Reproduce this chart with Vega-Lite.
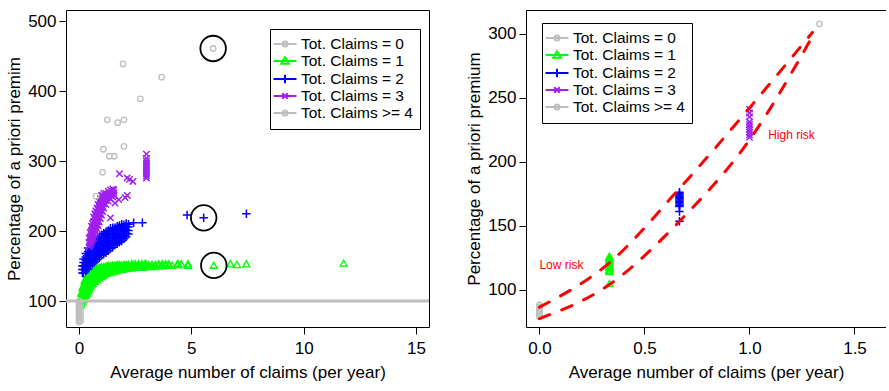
{
"$schema": "https://vega.github.io/schema/vega-lite/v6.json",
"padding": {"left": 5, "top": 9, "right": 0, "bottom": 0},
"bounds": "flush",
"spacing": 97,
"config": {
 "font": "Liberation Sans",
 "view": {"stroke": "black", "strokeWidth": 1},
 "axis": {"grid": false, "domain": false, "domainColor": "black", "domainWidth": 1, "tickColor": "black", "tickSize": 7, "tickWidth": 1, "labelColor": "black", "labelFont": "Liberation Sans", "labelFontSize": 17, "titleFont": "Liberation Sans", "titleFontSize": 17, "titleFontWeight": "normal", "titleColor": "black", "labelFlush": false, "labelOverlap": false},
 "axisX": {"labelPadding": 6, "titlePadding": 8},
 "axisY": {"labelPadding": 3, "titlePadding": 4},
 "legend": {"labelFont": "Liberation Sans", "labelFontSize": 15.5, "labelColor": "black", "strokeColor": "black", "fillColor": "white", "padding": 7, "symbolSize": 196, "symbolStrokeWidth": 2, "labelOffset": 8, "rowPadding": 0, "symbolOpacity": 1, "labelBaseline": "middle"}
},
"resolve": {"scale": {"color": "independent", "shape": "independent"}, "legend": {"color": "independent", "shape": "independent"}},
"datasets": {
 "left": [
{"x":0,"y":70,"c":"0"},{"x":0,"y":73,"c":"0"},{"x":0,"y":76,"c":"0"},{"x":0,"y":79,"c":"0"},{"x":0,"y":82,"c":"0"},{"x":0,"y":85,"c":"0"},{"x":0,"y":88,"c":"0"},{"x":0,"y":91,"c":"0"},{"x":0,"y":94,"c":"0"},{"x":0,"y":97,"c":"0"},{"x":0,"y":100,"c":"0"},{"x":0.07,"y":72,"c":"0"},{"x":0.07,"y":78,"c":"0"},{"x":0.07,"y":84,"c":"0"},{"x":0.07,"y":90,"c":"0"},{"x":0.07,"y":96,"c":"0"},
{"x":0.76,"y":250,"c":"4"},{"x":1.05,"y":284,"c":"4"},{"x":1.08,"y":317,"c":"4"},{"x":1.35,"y":307,"c":"4"},{"x":1.57,"y":307,"c":"4"},{"x":1.26,"y":359,"c":"4"},{"x":1.72,"y":355,"c":"4"},{"x":2.0,"y":359,"c":"4"},{"x":2.0,"y":321,"c":"4"},{"x":1.96,"y":439,"c":"4"},{"x":2.73,"y":389,"c":"4"},{"x":3.68,"y":420,"c":"4"},{"x":5.97,"y":461,"c":"4"},
{"x":0.06,"y":94,"c":"1"},{"x":0.06,"y":99,"c":"1"},{"x":0.06,"y":104,"c":"1"},
{"x":0.1,"y":96,"c":"1"},{"x":0.1,"y":101,"c":"1"},{"x":0.1,"y":106,"c":"1"},{"x":0.1,"y":111,"c":"1"},
{"x":0.15,"y":99,"c":"1"},{"x":0.15,"y":104,"c":"1"},{"x":0.15,"y":109,"c":"1"},{"x":0.15,"y":114,"c":"1"},{"x":0.15,"y":119,"c":"1"},
{"x":0.2,"y":102,"c":"1"},{"x":0.2,"y":107,"c":"1"},{"x":0.2,"y":112,"c":"1"},{"x":0.2,"y":117,"c":"1"},{"x":0.2,"y":122,"c":"1"},
{"x":0.25,"y":105,"c":"1"},{"x":0.25,"y":110,"c":"1"},{"x":0.25,"y":115,"c":"1"},{"x":0.25,"y":120,"c":"1"},{"x":0.25,"y":125,"c":"1"},{"x":0.25,"y":129,"c":"1"},
{"x":0.3,"y":108,"c":"1"},{"x":0.3,"y":113,"c":"1"},{"x":0.3,"y":118,"c":"1"},{"x":0.3,"y":123,"c":"1"},{"x":0.3,"y":128,"c":"1"},{"x":0.3,"y":132,"c":"1"},
{"x":0.35,"y":111,"c":"1"},{"x":0.35,"y":116,"c":"1"},{"x":0.35,"y":121,"c":"1"},{"x":0.35,"y":126,"c":"1"},{"x":0.35,"y":131,"c":"1"},{"x":0.35,"y":135,"c":"1"},
{"x":0.4,"y":114,"c":"1"},{"x":0.4,"y":119,"c":"1"},{"x":0.4,"y":124,"c":"1"},{"x":0.4,"y":129,"c":"1"},{"x":0.4,"y":134,"c":"1"},{"x":0.4,"y":137,"c":"1"},
{"x":0.45,"y":117,"c":"1"},{"x":0.45,"y":122,"c":"1"},{"x":0.45,"y":127,"c":"1"},{"x":0.45,"y":132,"c":"1"},{"x":0.45,"y":136,"c":"1"},{"x":0.45,"y":139,"c":"1"},
{"x":0.5,"y":120,"c":"1"},{"x":0.5,"y":125,"c":"1"},{"x":0.5,"y":130,"c":"1"},{"x":0.5,"y":134,"c":"1"},{"x":0.5,"y":138,"c":"1"},{"x":0.5,"y":141,"c":"1"},
{"x":0.55,"y":123,"c":"1"},{"x":0.55,"y":127,"c":"1"},{"x":0.55,"y":131,"c":"1"},{"x":0.55,"y":135,"c":"1"},{"x":0.55,"y":139,"c":"1"},{"x":0.55,"y":142,"c":"1"},
{"x":0.6,"y":125,"c":"1"},{"x":0.6,"y":129,"c":"1"},{"x":0.6,"y":133,"c":"1"},{"x":0.6,"y":137,"c":"1"},{"x":0.6,"y":141,"c":"1"},{"x":0.6,"y":143,"c":"1"},
{"x":0.7,"y":128,"c":"1"},{"x":0.7,"y":132,"c":"1"},{"x":0.7,"y":136,"c":"1"},{"x":0.7,"y":140,"c":"1"},{"x":0.7,"y":143,"c":"1"},{"x":0.7,"y":145,"c":"1"},
{"x":0.8,"y":130,"c":"1"},{"x":0.8,"y":134,"c":"1"},{"x":0.8,"y":138,"c":"1"},{"x":0.8,"y":142,"c":"1"},{"x":0.8,"y":145,"c":"1"},{"x":0.8,"y":147,"c":"1"},
{"x":0.9,"y":133,"c":"1"},{"x":0.9,"y":137,"c":"1"},{"x":0.9,"y":141,"c":"1"},{"x":0.9,"y":144,"c":"1"},{"x":0.9,"y":147,"c":"1"},{"x":0.9,"y":148,"c":"1"},
{"x":1.0,"y":135,"c":"1"},{"x":1.0,"y":139,"c":"1"},{"x":1.0,"y":142,"c":"1"},{"x":1.0,"y":145,"c":"1"},{"x":1.0,"y":148,"c":"1"},{"x":1.0,"y":149,"c":"1"},
{"x":1.1,"y":137,"c":"1"},{"x":1.1,"y":141,"c":"1"},{"x":1.1,"y":144,"c":"1"},{"x":1.1,"y":147,"c":"1"},{"x":1.1,"y":149,"c":"1"},
{"x":1.2,"y":139,"c":"1"},{"x":1.2,"y":142,"c":"1"},{"x":1.2,"y":145,"c":"1"},{"x":1.2,"y":148,"c":"1"},{"x":1.2,"y":150,"c":"1"},
{"x":1.3,"y":140,"c":"1"},{"x":1.3,"y":143,"c":"1"},{"x":1.3,"y":146,"c":"1"},{"x":1.3,"y":149,"c":"1"},{"x":1.3,"y":151,"c":"1"},
{"x":1.4,"y":141,"c":"1"},{"x":1.4,"y":144,"c":"1"},{"x":1.4,"y":147,"c":"1"},{"x":1.4,"y":150,"c":"1"},
{"x":1.5,"y":142,"c":"1"},{"x":1.5,"y":145,"c":"1"},{"x":1.5,"y":148,"c":"1"},{"x":1.5,"y":151,"c":"1"},
{"x":1.6,"y":143,"c":"1"},{"x":1.6,"y":146,"c":"1"},{"x":1.6,"y":149,"c":"1"},{"x":1.6,"y":151,"c":"1"},
{"x":1.7,"y":144,"c":"1"},{"x":1.7,"y":147,"c":"1"},{"x":1.7,"y":150,"c":"1"},{"x":1.7,"y":152,"c":"1"},
{"x":1.8,"y":145,"c":"1"},{"x":1.8,"y":148,"c":"1"},{"x":1.8,"y":150,"c":"1"},{"x":1.8,"y":152,"c":"1"},
{"x":1.9,"y":145,"c":"1"},{"x":1.9,"y":148,"c":"1"},{"x":1.9,"y":151,"c":"1"},
{"x":2.0,"y":146,"c":"1"},{"x":2.0,"y":149,"c":"1"},{"x":2.0,"y":152,"c":"1"},
{"x":2.1,"y":146,"c":"1"},{"x":2.1,"y":149,"c":"1"},{"x":2.1,"y":152,"c":"1"},
{"x":2.2,"y":147,"c":"1"},{"x":2.2,"y":150,"c":"1"},{"x":2.2,"y":152,"c":"1"},
{"x":2.35,"y":147,"c":"1"},{"x":2.35,"y":150,"c":"1"},{"x":2.35,"y":153,"c":"1"},
{"x":2.5,"y":148,"c":"1"},{"x":2.5,"y":150,"c":"1"},{"x":2.5,"y":153,"c":"1"},
{"x":2.65,"y":148,"c":"1"},{"x":2.65,"y":151,"c":"1"},{"x":2.65,"y":153,"c":"1"},
{"x":2.8,"y":148,"c":"1"},{"x":2.8,"y":151,"c":"1"},{"x":2.8,"y":153,"c":"1"},
{"x":2.95,"y":149,"c":"1"},{"x":2.95,"y":151,"c":"1"},{"x":2.95,"y":154,"c":"1"},
{"x":3.1,"y":149,"c":"1"},{"x":3.1,"y":152,"c":"1"},{"x":3.25,"y":149,"c":"1"},{"x":3.25,"y":152,"c":"1"},
{"x":3.4,"y":150,"c":"1"},{"x":3.4,"y":152,"c":"1"},{"x":3.55,"y":150,"c":"1"},{"x":3.55,"y":153,"c":"1"},
{"x":3.7,"y":150,"c":"1"},{"x":3.7,"y":153,"c":"1"},{"x":3.85,"y":151,"c":"1"},{"x":3.85,"y":153,"c":"1"},
{"x":4.0,"y":151,"c":"1"},{"x":4.0,"y":153,"c":"1"},{"x":4.15,"y":151,"c":"1"},{"x":4.4,"y":152,"c":"1"},{"x":4.4,"y":154,"c":"1"},
{"x":4.55,"y":153,"c":"1"},{"x":4.85,"y":151,"c":"1"},{"x":4.85,"y":153,"c":"1"},
{"x":6.0,"y":151,"c":"1"},{"x":6.74,"y":153,"c":"1"},{"x":7.03,"y":152,"c":"1"},{"x":7.45,"y":153,"c":"1"},{"x":11.78,"y":154,"c":"1"},
{"x":0.15,"y":140,"c":"2"},{"x":0.15,"y":145,"c":"2"},{"x":0.15,"y":150,"c":"2"},
{"x":0.2,"y":140,"c":"2"},{"x":0.2,"y":145,"c":"2"},{"x":0.2,"y":150,"c":"2"},{"x":0.2,"y":155,"c":"2"},{"x":0.2,"y":160,"c":"2"},
{"x":0.3,"y":143,"c":"2"},{"x":0.3,"y":148,"c":"2"},{"x":0.3,"y":153,"c":"2"},{"x":0.3,"y":158,"c":"2"},{"x":0.3,"y":163,"c":"2"},{"x":0.3,"y":168,"c":"2"},
{"x":0.4,"y":146,"c":"2"},{"x":0.4,"y":151,"c":"2"},{"x":0.4,"y":156,"c":"2"},{"x":0.4,"y":161,"c":"2"},{"x":0.4,"y":166,"c":"2"},{"x":0.4,"y":171,"c":"2"},{"x":0.4,"y":176,"c":"2"},
{"x":0.5,"y":150,"c":"2"},{"x":0.5,"y":155,"c":"2"},{"x":0.5,"y":160,"c":"2"},{"x":0.5,"y":165,"c":"2"},{"x":0.5,"y":170,"c":"2"},{"x":0.5,"y":175,"c":"2"},{"x":0.5,"y":180,"c":"2"},
{"x":0.6,"y":153,"c":"2"},{"x":0.6,"y":158,"c":"2"},{"x":0.6,"y":163,"c":"2"},{"x":0.6,"y":168,"c":"2"},{"x":0.6,"y":173,"c":"2"},{"x":0.6,"y":178,"c":"2"},{"x":0.6,"y":183,"c":"2"},
{"x":0.7,"y":156,"c":"2"},{"x":0.7,"y":161,"c":"2"},{"x":0.7,"y":166,"c":"2"},{"x":0.7,"y":171,"c":"2"},{"x":0.7,"y":176,"c":"2"},{"x":0.7,"y":181,"c":"2"},{"x":0.7,"y":186,"c":"2"},
{"x":0.8,"y":159,"c":"2"},{"x":0.8,"y":164,"c":"2"},{"x":0.8,"y":169,"c":"2"},{"x":0.8,"y":174,"c":"2"},{"x":0.8,"y":179,"c":"2"},{"x":0.8,"y":184,"c":"2"},{"x":0.8,"y":189,"c":"2"},
{"x":0.9,"y":162,"c":"2"},{"x":0.9,"y":167,"c":"2"},{"x":0.9,"y":172,"c":"2"},{"x":0.9,"y":177,"c":"2"},{"x":0.9,"y":182,"c":"2"},{"x":0.9,"y":187,"c":"2"},{"x":0.9,"y":192,"c":"2"},
{"x":1.0,"y":165,"c":"2"},{"x":1.0,"y":170,"c":"2"},{"x":1.0,"y":175,"c":"2"},{"x":1.0,"y":180,"c":"2"},{"x":1.0,"y":185,"c":"2"},{"x":1.0,"y":190,"c":"2"},{"x":1.0,"y":195,"c":"2"},
{"x":1.1,"y":167,"c":"2"},{"x":1.1,"y":172,"c":"2"},{"x":1.1,"y":177,"c":"2"},{"x":1.1,"y":182,"c":"2"},{"x":1.1,"y":187,"c":"2"},{"x":1.1,"y":192,"c":"2"},{"x":1.1,"y":197,"c":"2"},
{"x":1.2,"y":169,"c":"2"},{"x":1.2,"y":174,"c":"2"},{"x":1.2,"y":179,"c":"2"},{"x":1.2,"y":184,"c":"2"},{"x":1.2,"y":189,"c":"2"},{"x":1.2,"y":194,"c":"2"},{"x":1.2,"y":199,"c":"2"},
{"x":1.3,"y":172,"c":"2"},{"x":1.3,"y":177,"c":"2"},{"x":1.3,"y":182,"c":"2"},{"x":1.3,"y":187,"c":"2"},{"x":1.3,"y":192,"c":"2"},{"x":1.3,"y":197,"c":"2"},{"x":1.3,"y":201,"c":"2"},
{"x":1.4,"y":175,"c":"2"},{"x":1.4,"y":180,"c":"2"},{"x":1.4,"y":185,"c":"2"},{"x":1.4,"y":190,"c":"2"},{"x":1.4,"y":195,"c":"2"},{"x":1.4,"y":200,"c":"2"},{"x":1.4,"y":204,"c":"2"},
{"x":1.5,"y":177,"c":"2"},{"x":1.5,"y":182,"c":"2"},{"x":1.5,"y":187,"c":"2"},{"x":1.5,"y":192,"c":"2"},{"x":1.5,"y":197,"c":"2"},{"x":1.5,"y":202,"c":"2"},{"x":1.5,"y":205,"c":"2"},
{"x":1.6,"y":180,"c":"2"},{"x":1.6,"y":185,"c":"2"},{"x":1.6,"y":190,"c":"2"},{"x":1.6,"y":195,"c":"2"},{"x":1.6,"y":200,"c":"2"},{"x":1.6,"y":205,"c":"2"},
{"x":1.7,"y":182,"c":"2"},{"x":1.7,"y":187,"c":"2"},{"x":1.7,"y":192,"c":"2"},{"x":1.7,"y":197,"c":"2"},{"x":1.7,"y":202,"c":"2"},{"x":1.7,"y":207,"c":"2"},
{"x":1.8,"y":184,"c":"2"},{"x":1.8,"y":189,"c":"2"},{"x":1.8,"y":194,"c":"2"},{"x":1.8,"y":199,"c":"2"},{"x":1.8,"y":204,"c":"2"},{"x":1.8,"y":208,"c":"2"},
{"x":1.9,"y":186,"c":"2"},{"x":1.9,"y":191,"c":"2"},{"x":1.9,"y":196,"c":"2"},{"x":1.9,"y":201,"c":"2"},{"x":1.9,"y":206,"c":"2"},{"x":1.9,"y":210,"c":"2"},
{"x":2.0,"y":189,"c":"2"},{"x":2.0,"y":194,"c":"2"},{"x":2.0,"y":199,"c":"2"},{"x":2.0,"y":204,"c":"2"},{"x":2.0,"y":209,"c":"2"},
{"x":2.1,"y":192,"c":"2"},{"x":2.1,"y":197,"c":"2"},{"x":2.1,"y":202,"c":"2"},{"x":2.1,"y":207,"c":"2"},{"x":2.1,"y":211,"c":"2"},
{"x":2.2,"y":196,"c":"2"},{"x":2.2,"y":201,"c":"2"},{"x":2.2,"y":206,"c":"2"},{"x":2.2,"y":210,"c":"2"},
{"x":2.43,"y":212,"c":"2"},{"x":2.82,"y":212,"c":"2"},{"x":4.81,"y":223,"c":"2"},{"x":5.55,"y":219,"c":"2"},{"x":7.45,"y":225,"c":"2"},
{"x":0.45,"y":178,"c":"3"},{"x":0.45,"y":184,"c":"3"},{"x":0.45,"y":190,"c":"3"},
{"x":0.5,"y":180,"c":"3"},{"x":0.5,"y":186,"c":"3"},{"x":0.5,"y":192,"c":"3"},{"x":0.5,"y":198,"c":"3"},
{"x":0.55,"y":183,"c":"3"},{"x":0.55,"y":189,"c":"3"},{"x":0.55,"y":195,"c":"3"},{"x":0.55,"y":201,"c":"3"},{"x":0.55,"y":207,"c":"3"},
{"x":0.6,"y":187,"c":"3"},{"x":0.6,"y":193,"c":"3"},{"x":0.6,"y":199,"c":"3"},{"x":0.6,"y":205,"c":"3"},{"x":0.6,"y":211,"c":"3"},
{"x":0.65,"y":190,"c":"3"},{"x":0.65,"y":196,"c":"3"},{"x":0.65,"y":202,"c":"3"},{"x":0.65,"y":208,"c":"3"},{"x":0.65,"y":214,"c":"3"},{"x":0.65,"y":220,"c":"3"},
{"x":0.7,"y":195,"c":"3"},{"x":0.7,"y":201,"c":"3"},{"x":0.7,"y":207,"c":"3"},{"x":0.7,"y":213,"c":"3"},{"x":0.7,"y":219,"c":"3"},{"x":0.7,"y":225,"c":"3"},
{"x":0.75,"y":199,"c":"3"},{"x":0.75,"y":205,"c":"3"},{"x":0.75,"y":211,"c":"3"},{"x":0.75,"y":217,"c":"3"},{"x":0.75,"y":223,"c":"3"},{"x":0.75,"y":229,"c":"3"},
{"x":0.8,"y":203,"c":"3"},{"x":0.8,"y":209,"c":"3"},{"x":0.8,"y":215,"c":"3"},{"x":0.8,"y":221,"c":"3"},{"x":0.8,"y":227,"c":"3"},{"x":0.8,"y":233,"c":"3"},
{"x":0.85,"y":208,"c":"3"},{"x":0.85,"y":214,"c":"3"},{"x":0.85,"y":220,"c":"3"},{"x":0.85,"y":226,"c":"3"},{"x":0.85,"y":232,"c":"3"},{"x":0.85,"y":238,"c":"3"},
{"x":0.9,"y":213,"c":"3"},{"x":0.9,"y":219,"c":"3"},{"x":0.9,"y":225,"c":"3"},{"x":0.9,"y":231,"c":"3"},{"x":0.9,"y":237,"c":"3"},{"x":0.9,"y":242,"c":"3"},
{"x":0.95,"y":218,"c":"3"},{"x":0.95,"y":224,"c":"3"},{"x":0.95,"y":230,"c":"3"},{"x":0.95,"y":236,"c":"3"},{"x":0.95,"y":242,"c":"3"},{"x":0.95,"y":246,"c":"3"},
{"x":1.0,"y":223,"c":"3"},{"x":1.0,"y":229,"c":"3"},{"x":1.0,"y":235,"c":"3"},{"x":1.0,"y":241,"c":"3"},{"x":1.0,"y":247,"c":"3"},{"x":1.0,"y":251,"c":"3"},
{"x":1.05,"y":228,"c":"3"},{"x":1.05,"y":234,"c":"3"},{"x":1.05,"y":240,"c":"3"},{"x":1.05,"y":246,"c":"3"},{"x":1.05,"y":251,"c":"3"},
{"x":1.1,"y":233,"c":"3"},{"x":1.1,"y":239,"c":"3"},{"x":1.1,"y":245,"c":"3"},{"x":1.1,"y":250,"c":"3"},{"x":1.1,"y":254,"c":"3"},
{"x":1.2,"y":238,"c":"3"},{"x":1.2,"y":244,"c":"3"},{"x":1.2,"y":249,"c":"3"},{"x":1.2,"y":254,"c":"3"},
{"x":1.3,"y":243,"c":"3"},{"x":1.3,"y":248,"c":"3"},{"x":1.3,"y":253,"c":"3"},{"x":1.3,"y":257,"c":"3"},
{"x":1.4,"y":246,"c":"3"},{"x":1.4,"y":251,"c":"3"},{"x":1.4,"y":255,"c":"3"},{"x":1.4,"y":259,"c":"3"},
{"x":1.5,"y":249,"c":"3"},{"x":1.5,"y":253,"c":"3"},{"x":1.5,"y":257,"c":"3"},{"x":1.5,"y":260,"c":"3"},
{"x":1.55,"y":251,"c":"3"},{"x":1.55,"y":255,"c":"3"},{"x":1.55,"y":259,"c":"3"},
{"x":1.4,"y":219,"c":"3"},{"x":1.6,"y":240,"c":"3"},{"x":1.77,"y":245,"c":"3"},{"x":2.05,"y":248,"c":"3"},{"x":2.15,"y":251,"c":"3"},{"x":1.8,"y":282,"c":"3"},{"x":2.14,"y":276,"c":"3"},{"x":2.25,"y":274,"c":"3"},{"x":2.4,"y":271,"c":"3"},
{"x":3.0,"y":276,"c":"3"},{"x":3.0,"y":279,"c":"3"},{"x":3.0,"y":282,"c":"3"},{"x":3.0,"y":285,"c":"3"},{"x":3.0,"y":288,"c":"3"},{"x":3.0,"y":291,"c":"3"},{"x":3.0,"y":294,"c":"3"},{"x":3.0,"y":297,"c":"3"},{"x":3.0,"y":300,"c":"3"},{"x":3.0,"y":304,"c":"3"},{"x":3.0,"y":310,"c":"3"}
 ],
 "circ": [{"x":5.97,"y":461},{"x":5.55,"y":219},{"x":6.0,"y":151}],
 "base": [{"y":100}],
 "right": [
{"x":0,"y":79,"c":"0"},{"x":0,"y":80.5,"c":"0"},{"x":0,"y":82,"c":"0"},{"x":0,"y":83.5,"c":"0"},{"x":0,"y":85,"c":"0"},{"x":0,"y":86.5,"c":"0"},{"x":0,"y":88,"c":"0"},
{"x":0.3333,"y":104.5,"c":"1"},{"x":0.3333,"y":114,"c":"1"},{"x":0.3333,"y":115,"c":"1"},{"x":0.3333,"y":116,"c":"1"},{"x":0.3333,"y":117,"c":"1"},{"x":0.3333,"y":118,"c":"1"},{"x":0.3333,"y":119,"c":"1"},{"x":0.3333,"y":120,"c":"1"},{"x":0.3333,"y":121,"c":"1"},{"x":0.3333,"y":122,"c":"1"},{"x":0.3333,"y":123,"c":"1"},{"x":0.3333,"y":124,"c":"1"},{"x":0.3333,"y":125,"c":"1"},{"x":0.3333,"y":126,"c":"1"},
{"x":0.6667,"y":153.5,"c":"2"},{"x":0.6667,"y":161,"c":"2"},{"x":0.6667,"y":165,"c":"2"},{"x":0.6667,"y":166,"c":"2"},{"x":0.6667,"y":167,"c":"2"},{"x":0.6667,"y":168,"c":"2"},{"x":0.6667,"y":169,"c":"2"},{"x":0.6667,"y":170,"c":"2"},{"x":0.6667,"y":171,"c":"2"},{"x":0.6667,"y":172,"c":"2"},{"x":0.6667,"y":173,"c":"2"},{"x":0.6667,"y":174,"c":"2"},{"x":0.6667,"y":175,"c":"2"},{"x":0.6667,"y":176,"c":"2"},
{"x":1,"y":219,"c":"3"},{"x":1,"y":221,"c":"3"},{"x":1,"y":223,"c":"3"},{"x":1,"y":225,"c":"3"},{"x":1,"y":227,"c":"3"},{"x":1,"y":229,"c":"3"},{"x":1,"y":231,"c":"3"},{"x":1,"y":235,"c":"3"},{"x":1,"y":238,"c":"3"},{"x":1,"y":241,"c":"3"},
{"x":1.3333,"y":307.6,"c":"4"}
 ],
 "risk": [
{"x":0,"y":86.3,"g":"upper"},{"x":0.3333,"y":121,"g":"upper"},{"x":0.6667,"y":179,"g":"upper"},{"x":1,"y":242,"g":"upper"},{"x":1.3,"y":301,"g":"upper"},
{"x":0,"y":77.3,"g":"lower"},{"x":0.3333,"y":104,"g":"lower"},{"x":0.6667,"y":153.4,"g":"lower"},{"x":1,"y":217,"g":"lower"},{"x":1.3,"y":298,"g":"lower"}
 ],
 "txt": [{"x":0,"y":119.5,"t":"Low risk"},{"x":1.089,"y":220.6,"t":"High risk"}]
},
"hconcat": [
 {
  "width": 363, "height": 317,
  "layer": [
   {"data": {"name": "left"}, "transform": [{"filter": "datum.c == '1'"}],
    "mark": {"type": "point", "shape": "M0,-0.9L0.95,0.75L-0.95,0.75Z", "filled": false, "color": "#00FF00", "size": 56, "strokeWidth": 1.3, "opacity": 1},
    "encoding": {
     "x": {"field": "x", "type": "quantitative", "scale": {"domain": [-0.58, 15.58], "nice": false, "zero": false}, "axis": {"values": [0, 5, 10, 15], "title": "Average number of claims (per year)"}},
     "y": {"field": "y", "type": "quantitative", "scale": {"domain": [63, 516], "nice": false, "zero": false}, "axis": {"values": [100, 200, 300, 400, 500], "title": "Percentage of a priori premim"}}}},
   {"data": {"name": "left"}, "transform": [{"filter": "datum.c == '2'"}],
    "mark": {"type": "point", "shape": "M-1,0H1M0,-1V1", "filled": false, "color": "#0000FF", "size": 72, "strokeWidth": 1.5, "opacity": 1},
    "encoding": {"x": {"field": "x", "type": "quantitative"}, "y": {"field": "y", "type": "quantitative"}}},
   {"data": {"name": "left"}, "transform": [{"filter": "datum.c == '3'"}],
    "mark": {"type": "point", "shape": "M-1,-1L1,1M-1,1L1,-1", "filled": false, "color": "#A020F0", "size": 40, "strokeWidth": 1.5, "opacity": 1},
    "encoding": {"x": {"field": "x", "type": "quantitative"}, "y": {"field": "y", "type": "quantitative"}}},
   {"data": {"name": "left"}, "transform": [{"filter": "datum.c == '0' || datum.c == '4'"}],
    "mark": {"type": "point", "shape": "circle", "filled": false, "color": "#BEBEBE", "size": 30, "strokeWidth": 1.3, "opacity": 1},
    "encoding": {"x": {"field": "x", "type": "quantitative"}, "y": {"field": "y", "type": "quantitative"}}},
   {"data": {"name": "base"},
    "mark": {"type": "rule", "color": "#BEBEBE", "strokeWidth": 3},
    "encoding": {"y": {"field": "y", "type": "quantitative"}}},
   {"data": {"name": "circ"},
    "mark": {"type": "point", "shape": "circle", "filled": false, "color": "black", "size": 650, "strokeWidth": 1.8, "opacity": 1},
    "encoding": {"x": {"field": "x", "type": "quantitative"}, "y": {"field": "y", "type": "quantitative"}}},
   {"data": {"name": "left"},
    "mark": {"type": "point", "filled": false, "opacity": 0},
    "encoding": {
     "x": {"field": "x", "type": "quantitative"},
     "y": {"field": "y", "type": "quantitative"},
     "color": {"field": "c", "type": "nominal", "scale": {"domain": ["0","1","2","3","4"], "range": ["#BEBEBE","#00FF00","#0000FF","#A020F0","#BEBEBE"]},
      "legend": {"title": null, "orient": "none", "legendX": 204, "legendY": 19, "labelFontSize": 15.5, "symbolSize": 196, "symbolStrokeWidth": 2, "labelOffset": 8, "padding": 7, "rowPadding": 0, "strokeColor": "black", "fillColor": "white", "labelExpr": "datum.label == '4' ? 'Tot. Claims >= 4' : 'Tot. Claims = ' + datum.label"}},
     "shape": {"field": "c", "type": "nominal", "scale": {"domain": ["0","1","2","3","4"], "range": [
       "M-1.64,0H1.64M-0.36,0A0.36,0.36 0 1,0 0.36,0A0.36,0.36 0 1,0 -0.36,0",
       "M-1.64,0H1.64M0,-0.55L0.55,0.4L-0.55,0.4Z",
       "M-1.64,0H1.64M0,-0.6V0.6",
       "M-1.64,0H1.64M-0.4,-0.4L0.4,0.4M-0.4,0.4L0.4,-0.4",
       "M-1.64,0H1.64M-0.36,0A0.36,0.36 0 1,0 0.36,0A0.36,0.36 0 1,0 -0.36,0"]},
      "legend": {"title": null, "orient": "none", "legendX": 204, "legendY": 19, "labelFontSize": 15.5, "symbolSize": 196, "symbolStrokeWidth": 2, "labelOffset": 8, "padding": 7, "rowPadding": 0, "strokeColor": "black", "fillColor": "white", "labelExpr": "datum.label == '4' ? 'Tot. Claims >= 4' : 'Tot. Claims = ' + datum.label"}}}}
  ]
 },
 {
  "width": 360, "height": 317,
  "view": {"stroke": null},
  "resolve": {"axis": {"x": "independent"}},
  "layer": [
   {"data": {"name": "right"}, "transform": [{"filter": "datum.c == '0' || datum.c == '4'"}],
    "mark": {"type": "point", "shape": "circle", "filled": false, "color": "#BEBEBE", "size": 30, "strokeWidth": 1.3, "opacity": 1},
    "encoding": {
     "x": {"field": "x", "type": "quantitative", "scale": {"domain": [-0.064, 1.65], "nice": false, "zero": false}, "axis": {"values": [0, 0.5, 1, 1.5], "format": ".1f", "title": "Average number of claims (per year)", "domain": true}},
     "y": {"field": "y", "type": "quantitative", "scale": {"domain": [70.8, 318.5], "nice": false, "zero": false}, "axis": {"values": [100, 150, 200, 250, 300], "title": "Percentage of a priori premium", "domain": true}}}},
   {"data": {"name": "right"}, "transform": [{"filter": "datum.c == '1'"}],
    "mark": {"type": "point", "shape": "M0,-0.9L0.95,0.75L-0.95,0.75Z", "filled": false, "color": "#00FF00", "size": 56, "strokeWidth": 1.3, "opacity": 1},
    "encoding": {"x": {"field": "x", "type": "quantitative", "axis": null}, "y": {"field": "y", "type": "quantitative"}}},
   {"data": {"name": "right"}, "transform": [{"filter": "datum.c == '2'"}],
    "mark": {"type": "point", "shape": "M-1,0H1M0,-1V1", "filled": false, "color": "#0000FF", "size": 72, "strokeWidth": 1.5, "opacity": 1},
    "encoding": {"x": {"field": "x", "type": "quantitative", "axis": null}, "y": {"field": "y", "type": "quantitative"}}},
   {"data": {"name": "right"}, "transform": [{"filter": "datum.c == '3'"}],
    "mark": {"type": "point", "shape": "M-1,-1L1,1M-1,1L1,-1", "filled": false, "color": "#A020F0", "size": 40, "strokeWidth": 1.5, "opacity": 1},
    "encoding": {"x": {"field": "x", "type": "quantitative", "axis": null}, "y": {"field": "y", "type": "quantitative"}}},
   {"data": {"name": "risk"},
    "mark": {"type": "line", "color": "#FF0000", "strokeWidth": 3, "strokeDash": [11, 13], "strokeCap": "round", "interpolate": "monotone"},
    "encoding": {
     "x": {"field": "x", "type": "quantitative", "axis": null},
     "y": {"field": "y", "type": "quantitative"},
     "detail": {"field": "g", "type": "nominal"}}},
   {"data": {"name": "txt"},
    "mark": {"type": "text", "align": "left", "baseline": "middle", "color": "#FF0000", "fontSize": 12, "font": "Liberation Sans"},
    "encoding": {
     "x": {"field": "x", "type": "quantitative", "axis": null},
     "y": {"field": "y", "type": "quantitative"},
     "text": {"field": "t", "type": "nominal"}}},
   {"data": {"name": "right"},
    "mark": {"type": "point", "filled": false, "opacity": 0},
    "encoding": {
     "x": {"field": "x", "type": "quantitative", "axis": {"orient": "top", "labels": false, "ticks": false, "title": null, "domain": true}},
     "y": {"field": "y", "type": "quantitative"},
     "color": {"field": "c", "type": "nominal", "scale": {"domain": ["0","1","2","3","4"], "range": ["#BEBEBE","#00FF00","#0000FF","#A020F0","#BEBEBE"]},
      "legend": {"title": null, "orient": "none", "legendX": 16, "legendY": 13, "labelFontSize": 15.5, "symbolSize": 196, "symbolStrokeWidth": 2, "labelOffset": 8, "padding": 7, "rowPadding": 0, "strokeColor": "black", "fillColor": "white", "labelExpr": "datum.label == '4' ? 'Tot. Claims >= 4' : 'Tot. Claims = ' + datum.label"}},
     "shape": {"field": "c", "type": "nominal", "scale": {"domain": ["0","1","2","3","4"], "range": [
       "M-1.64,0H1.64M-0.36,0A0.36,0.36 0 1,0 0.36,0A0.36,0.36 0 1,0 -0.36,0",
       "M-1.64,0H1.64M0,-0.55L0.55,0.4L-0.55,0.4Z",
       "M-1.64,0H1.64M0,-0.6V0.6",
       "M-1.64,0H1.64M-0.4,-0.4L0.4,0.4M-0.4,0.4L0.4,-0.4",
       "M-1.64,0H1.64M-0.36,0A0.36,0.36 0 1,0 0.36,0A0.36,0.36 0 1,0 -0.36,0"]},
      "legend": {"title": null, "orient": "none", "legendX": 16, "legendY": 13, "labelFontSize": 15.5, "symbolSize": 196, "symbolStrokeWidth": 2, "labelOffset": 8, "padding": 7, "rowPadding": 0, "strokeColor": "black", "fillColor": "white", "labelExpr": "datum.label == '4' ? 'Tot. Claims >= 4' : 'Tot. Claims = ' + datum.label"}}}}
  ]
 }
]
}
